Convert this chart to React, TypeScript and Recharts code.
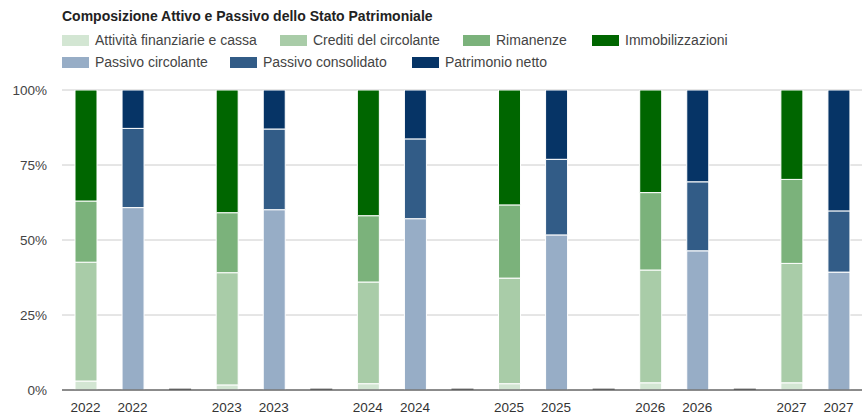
import React from 'react';
import { BarChart, Bar, XAxis, YAxis, CartesianGrid, ReferenceLine } from 'recharts';

const categories = ['2022', '2022', '', '2023', '2023', '', '2024', '2024', '', '2025', '2025', '', '2026', '2026', '', '2027', '2027'];
// kind of each column: A = attivo, P = passivo, S = spacer
const kinds = ['A', 'P', 'S', 'A', 'P', 'S', 'A', 'P', 'S', 'A', 'P', 'S', 'A', 'P', 'S', 'A', 'P'];

// Attivo (per year 2022..2027)
const attivitaFinanziarie = [3.0, 1.7, 2.1, 2.1, 2.4, 2.4];
const creditiCircolante = [39.6, 37.4, 33.9, 35.2, 37.6, 39.8];
const rimanenze = [20.4, 20.0, 22.1, 24.4, 25.8, 28.0];
const immobilizzazioni = [37.0, 40.9, 41.9, 38.3, 34.2, 29.8];
// Passivo
const passivoCircolante = [60.8, 60.1, 57.1, 51.7, 46.4, 39.3];
const passivoConsolidato = [26.4, 26.9, 26.6, 25.2, 23.0, 20.4];
const patrimonioNetto = [12.8, 13.0, 16.3, 23.1, 30.6, 40.3];
const spacerValue = 0.5;

const yTicks = [0, 25, 50, 75, 100];

const series = [
  { key: 'af', name: 'Attività finanziarie e cassa', color: '#d3e6d3' },
  { key: 'cr', name: 'Crediti del circolante', color: '#a9cca8' },
  { key: 'ri', name: 'Rimanenze', color: '#7bb27b' },
  { key: 'im', name: 'Immobilizzazioni', color: '#006600' },
  { key: 'pc', name: 'Passivo circolante', color: '#97adc6' },
  { key: 'pco', name: 'Passivo consolidato', color: '#325c87' },
  { key: 'pn', name: 'Patrimonio netto', color: '#063466' },
];

const data = categories.map((label, i) => {
  const yi = Math.floor(i / 3);
  const k = kinds[i];
  const row: any = { label, idx: i };
  if (k === 'A') {
    row.af = attivitaFinanziarie[yi];
    row.cr = creditiCircolante[yi];
    row.ri = rimanenze[yi];
    row.im = immobilizzazioni[yi];
  } else if (k === 'P') {
    row.pc = passivoCircolante[yi];
    row.pco = passivoConsolidato[yi];
    row.pn = patrimonioNetto[yi];
  } else {
    row.sp = spacerValue;
  }
  return row;
});

const legendRow1 = [
  { i: 0, x: 62 },
  { i: 1, x: 280 },
  { i: 2, x: 463 },
  { i: 3, x: 592 },
];
const legendRow2 = [
  { i: 4, x: 62 },
  { i: 5, x: 230 },
  { i: 6, x: 412 },
];

const font = 'Arial, "Liberation Sans", sans-serif';

function LegendItem({ s, x, y }: { s: any; x: number; y: number }) {
  return (
    <div style={{ position: 'absolute', left: x, top: y, display: 'flex', alignItems: 'center', height: 14 }}>
      <div style={{ width: 27, height: 11, background: s.color, marginRight: 6 }} />
      <span style={{ fontFamily: font, fontSize: 14, color: '#444', whiteSpace: 'nowrap' }}>{s.name}</span>
    </div>
  );
}

export default function App() {
  return (
    <div style={{ position: 'absolute', left: 0, top: 0, width: 863, height: 416, background: '#fff', overflow: 'hidden' }}>
      <div style={{ position: 'absolute', left: 62, top: 8, fontFamily: font, fontWeight: 'bold', fontSize: 14, color: '#222', whiteSpace: 'nowrap' }}>
        Composizione Attivo e Passivo dello Stato Patrimoniale
      </div>
      {legendRow1.map((l) => (
        <LegendItem key={series[l.i].key} s={series[l.i]} x={l.x} y={33} />
      ))}
      {legendRow2.map((l) => (
        <LegendItem key={series[l.i].key} s={series[l.i]} x={l.x} y={55} />
      ))}
      <div style={{ position: 'absolute', left: 0, top: 0 }}>
        <BarChart
          width={863}
          height={416}
          data={data}
          margin={{ top: 90, right: 1, bottom: 6, left: 0 }}
          barCategoryGap={0}
        >
          <CartesianGrid horizontal={true} vertical={false} stroke="#cccccc" />
          <XAxis
            dataKey="idx"
            tickFormatter={(v: any) => categories[v]}
            axisLine={false}
            tickLine={false}
            tickMargin={6}
            height={20}
            interval={0}
            tick={{ fill: '#333', fontSize: 13.5, fontFamily: font }}
          />
          <YAxis
            domain={[0, 100]}
            ticks={yTicks}
            tickFormatter={(v: number) => `${v}%`}
            axisLine={false}
            tickLine={false}
            tickMargin={9}
            width={62}
            allowDataOverflow
            tick={{ fill: '#444', fontSize: 13.5, fontFamily: font }}
          />
          {series.map((s) => (
            <Bar
              key={s.key}
              dataKey={s.key}
              name={s.name}
              stackId="a"
              fill={s.color}
              stroke="#ffffff"
              strokeWidth={1}
              barSize={22}
              isAnimationActive={false}
            />
          ))}
          <Bar dataKey="sp" stackId="a" fill="#8a8a8a" barSize={22} isAnimationActive={false} />
          <ReferenceLine y={0} stroke="#333" strokeWidth={1} />
        </BarChart>
      </div>
    </div>
  );
}
